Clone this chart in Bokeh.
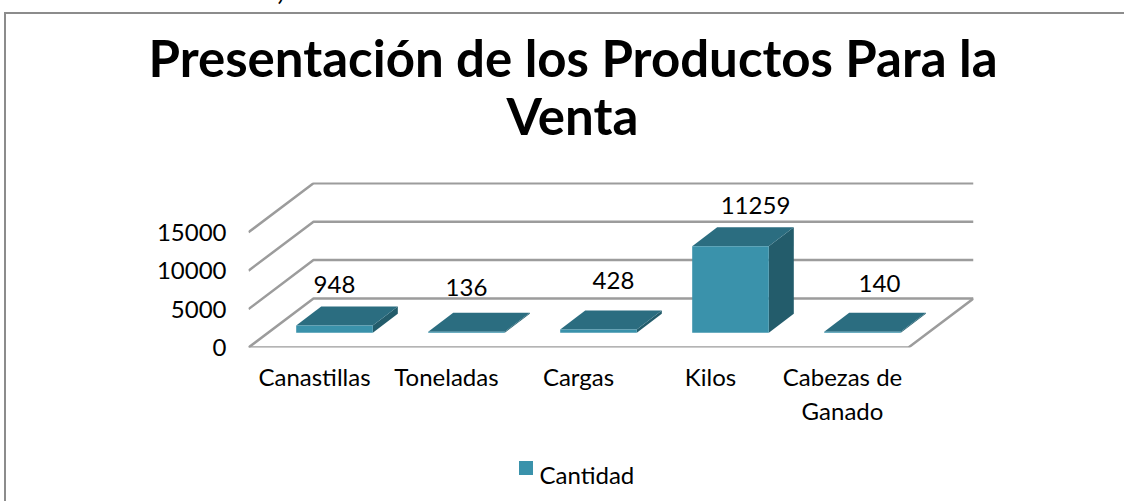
from bokeh.plotting import figure
from bokeh.embed import file_html
from bokeh.resources import INLINE
from bokeh.models import ColumnDataSource, FixedTicker, Range1d, Title
from bokeh.core.properties import value

categories = ["Canastillas", "Toneladas", "Cargas", "Kilos", "Cabezas de\nGanado"]
cantidad = [948, 136, 428, 11259, 140]
y_ticks = [0, 5000, 10000, 15000]
series_name = "Cantidad"
title_lines = ["Presentación de los Productos Para la", "Venta"]
caption_text = "FIGURA 41, PRESENTACIÓN DE LOS PRODUCTOS PARA LA VENTA."

FONT = "Lato"
SERIES_COLOR = "#3a92ab"
SHIFT = 60            # the caption runs off the top of the page
W, H = 1124, 501 + SHIFT
F_L, F_R, F_T, F_B = 248, 973, 182 + SHIFT, 347 + SHIFT
PX_X = 132.0          # px per category
PX_Y = 38.4 / 5000    # px per unit
DX, DY = 65 / PX_X, 49 / PX_Y                # floor depth in data units
BDX, BDY = 25 / PX_X, 19 / PX_Y              # bar depth
BX, BY = 20 / PX_X, 14.7 / PX_Y              # bar front position in floor
HALF = 38.3 / PX_X

p = figure(width=W, height=H, output_backend="svg", toolbar_location=None,
           frame_width=F_R - F_L, frame_height=F_B - F_T,
           x_range=Range1d(0, (F_R - F_L) / PX_X), y_range=Range1d(0, (F_B - F_T) / PX_Y),
           min_border_left=F_L, min_border_right=W - F_R, min_border_top=F_T,
           min_border_bottom=H - F_B, outline_line_color=None, background_fill_color="white",
           border_fill_color=None)
rule = "linear-gradient(#8c8c8c,#8c8c8c)"
swatch = f"linear-gradient({SERIES_COLOR},{SERIES_COLOR})"
p.styles = {"position": "absolute", "left": "0px", "top": f"-{SHIFT}px",
            "background": f"{swatch} 519px {461 + SHIFT}px / 14px 14px no-repeat, "
                          f"{rule} 4px {12 + SHIFT}px / 2px 100% no-repeat, "
                          f"{rule} 4px {12 + SHIFT}px / 100% 2px no-repeat"}
p.grid.visible = False

# axes
ya = p.yaxis[0]
ya.ticker = FixedTicker(ticks=y_ticks)
ya.axis_line_color = None
ya.major_tick_line_color = None
ya.minor_tick_line_color = None
ya.major_label_standoff = 16
ya.major_label_text_font = FONT
ya.major_label_text_font_size = "24px"
ya.major_label_text_color = "black"

xa = p.xaxis[0]
xpos = [i + 0.5 for i in range(len(categories))]
xa.ticker = FixedTicker(ticks=xpos)
xa.major_label_overrides = {x: c for x, c in zip(xpos, categories)}
xa.axis_line_color = None
xa.major_tick_line_color = None
xa.minor_tick_line_color = None
xa.major_label_standoff = 8
xa.major_label_text_font = FONT
xa.major_label_text_font_size = "24px"
xa.major_label_text_color = "black"

# walls and floor
GRID = "#9c9c9c"
n = len(categories)
gx, gy = [], []
for t in y_ticks:
    gx.append([0, DX, n + DX]); gy.append([t, t + DY, t + DY])
gx.append([0, n, n + DX]); gy.append([0, 0, DY])
p.multi_line(gx, gy, line_color=GRID, line_width=2.5)

# bars
fl, fr, fb, ft = [], [], [], []
top_x, top_y, side_x, side_y = [], [], [], []
for i, v in enumerate(cantidad):
    c = i + 0.5 + BX
    l, r, b, t = c - HALF, c + HALF, BY, BY + v
    fl.append(l); fr.append(r); fb.append(b); ft.append(t)
    top_x.append([l, r, r + BDX, l + BDX]); top_y.append([t, t, t + BDY, t + BDY])
    side_x.append([r, r + BDX, r + BDX, r]); side_y.append([b, b + BDY, t + BDY, t])
p.patches(side_x, side_y, fill_color="#235c6b", line_color=None)
p.patches(top_x, top_y, fill_color="#2b6d80", line_color=None)
p.quad(left=fl, right=fr, bottom=fb, top=ft, fill_color=SERIES_COLOR, line_color=None)

# data labels
lab = ColumnDataSource(dict(
    x=[i + 0.5 + BX + BDX for i in range(n)],
    y=[BY + v + BDY for v in cantidad],
    text=[str(v) for v in cantidad],
    xo=[-25, -25, -10, 0, -8],
    yo=[-14, -17, -22, -13, -21],
))
p.text("x", "y", text="text", source=lab, x_offset="xo", y_offset="yo",
       text_font=value(FONT), text_font_size="24px", text_align="center",
       text_baseline="bottom", text_color="black")

# legend text, stacked downward below the axis
p.add_layout(Title(text=" ", text_font=FONT, text_font_size="22.5px", standoff=0), "below")
p.add_layout(Title(text=series_name, text_font=FONT, text_font_style="normal",
                   text_font_size="24px", align="left", offset=539 - F_L, standoff=0,
                   text_color="black"), "below")

# title lines and clipped caption, stacked upward from the frame
p.add_layout(Title(text=" ", text_font=FONT, text_font_size="29px", standoff=0), "above")
p.add_layout(Title(text=title_lines[1], text_font=FONT, text_font_style="bold",
                   text_font_size="51px", align="left", offset=506 - F_L, standoff=0,
                   text_color="black"), "above")
p.add_layout(Title(text=title_lines[0], text_font=FONT, text_font_style="bold",
                   text_font_size="51px", align="left", offset=148 - F_L, standoff=-11,
                   text_color="black"), "above")
p.add_layout(Title(text=caption_text, text_font=FONT, text_font_style="bold",
                   text_font_size="28.5px", align="left", offset=133 - F_L, standoff=49,
                   text_color="black"), "above")

open("out.html", "w").write(file_html(p, INLINE))
